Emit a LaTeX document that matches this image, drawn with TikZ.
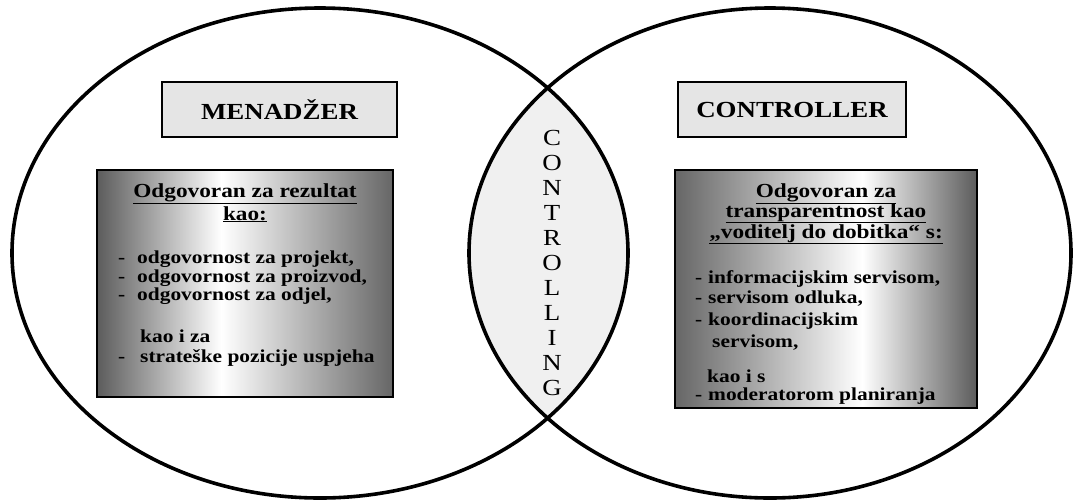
\documentclass[tikz,border=0pt]{standalone}
\usepackage{fontspec}
\setmainfont[FakeStretch=1.17]{Liberation Serif}

\pgfdeclarehorizontalshading{mgrshade}{100bp}{color(0bp)=(black!64); color(25bp)=(black!64); color(46bp)=(white); color(75bp)=(black!60); color(100bp)=(black!60)}
\pgfdeclarehorizontalshading{ctrshade}{100bp}{color(0bp)=(black!60); color(25bp)=(black!60); color(56bp)=(white); color(75bp)=(black!64); color(100bp)=(black!64)}

\begin{document}
\begin{tikzpicture}[x=1pt, y=-1pt,
  venn/.style={line width=3.6pt},
  tag/.style={draw, line width=2.6pt, fill=black!10, minimum height=55pt, inner sep=0pt, font=\bfseries\fontsize{23}{26}\selectfont},
  panel/.style={draw, line width=2.6pt, inner sep=0pt, shade},
  head/.style={font=\bfseries\fontsize{19.9}{22}\selectfont, anchor=base, inner sep=0pt},
  item/.style={font=\bfseries\fontsize{18.3}{20}\selectfont, anchor=base west, inner sep=0pt},
  letter/.style={font=\fontsize{23}{25}\selectfont, anchor=base, inner sep=0pt}]
\useasboundingbox (0,0) rectangle (1073,499);
% the common part
\begin{scope}
\clip (320,253) ellipse [x radius=308, y radius=245];
\fill[black!6] (770,253) ellipse [x radius=301, y radius=245];
\end{scope}
\draw[venn] (320,253) ellipse [x radius=308, y radius=245];
\draw[venn] (770,253) ellipse [x radius=301, y radius=245];
% titles
\node[tag, minimum width=235pt] (manager) at (279.5,109.5) {MENADŽER};
\node[tag, minimum width=228pt] (controller) at (792,109.5) {CONTROLLER};
% left panel
\node[panel, shading=mgrshade, minimum width=296pt, minimum height=227pt] (result) at (245,283.5) {};
\node[head] (res1) at (245,197) {\underline{Odgovoran za rezultat}};
\node[head] (res2) at (245,220) {\underline{kao:}};
\foreach \y/\t [count=\i] in {263/{\makebox[19pt][l]{-}odgovornost za projekt,},
    282/{\makebox[19pt][l]{-}odgovornost za proizvod,},
    300/{\makebox[19pt][l]{-}odgovornost za odjel,},
    342/{\hspace*{22pt}kao i za},
    362/{\makebox[22pt][l]{-}strateške pozicije uspjeha}}
  \node[item] (mgr\i) at (118,\y) {\t};
% right panel
\node[panel, shading=ctrshade, minimum width=302pt, minimum height=238pt] (transp) at (826,289) {};
\node[head] (tr1) at (826,197) {\underline{Odgovoran za}};
\node[head] (tr2) at (826,217) {\underline{transparentnost kao}};
\node[head] (tr3) at (826,238) {\underline{„voditelj do dobitka“ s:}};
\foreach \y/\t [count=\i] in {283/{\makebox[13pt][l]{-}informacijskim servisom,},
    303/{\makebox[13pt][l]{-}servisom odluka,},
    325/{\makebox[13pt][l]{-}koordinacijskim},
    347/{\hspace*{17pt}servisom,},
    382/{\hspace*{12pt}kao i s},
    400/{\makebox[13pt][l]{-}moderatorom planiranja}}
  \node[item] (ctr\i) at (695,\y) {\t};
% middle word
\foreach \c [count=\i] in {C,O,N,T,R,O,L,L,I,N,G}
  \node[letter] (let\i) at (552,{145+25*(\i-1)}) {\c};
\end{tikzpicture}
\end{document}
